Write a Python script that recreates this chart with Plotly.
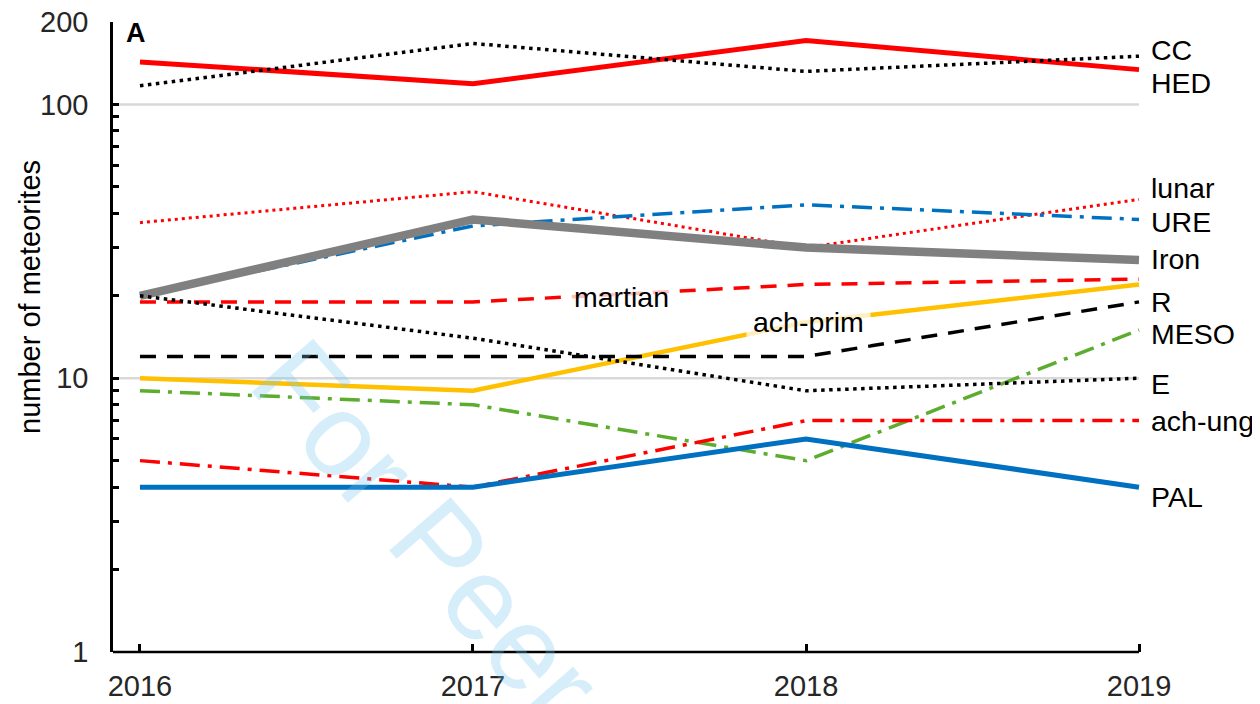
import math
import plotly.graph_objects as go

years = [2016, 2017, 2018, 2019]

hed = [143, 119, 171, 134]
cc = [117, 167, 132, 150]
lunar = [37, 48, 30, 45]
ure = [20, 36, 43, 38]
iron = [20, 38, 30, 27]
martian = [19, 19, 22, 23]
ach_prim = [10, 9, 16, 22]
r_chond = [12, 12, 12, 19]
meso = [9, 8, 5, 15]
e_chond = [20, 14, 9, 10]
ach_ung = [5, 4, 7, 7]
pal = [4, 4, 6, 4]

# end-of-line label texts and their vertical positions (meteorite counts)
end_labels = ["CC", "HED", "lunar", "URE", "Iron", "R", "MESO", "E", "ach-ung", "PAL"]
end_label_y = [158, 119.7, 49.7, 37.2, 27.3, 19.0, 14.5, 9.52, 6.98, 3.68]

y_tick_vals = [1, 2, 3, 4, 5, 6, 7, 8, 9, 10, 20, 30, 40, 50, 60, 70, 80, 90, 100, 200]
y_tick_text = ["1", "", "", "", "", "", "", "", "", "10", "", "", "", "", "", "", "", "", "100", "200"]
grid_vals = [10, 100]

RED = "#ff0000"
BLUE = "#0070c0"
GREY = "#808080"
YELLOW = "#ffc000"
GREEN = "#5cac2d"
BLACK = "#000000"

DOT = "3.5px,4.5px"
FINEDOT = "3px,4px"
DASH = "16px,11px"
DASHDOT = "20px,8px,4px,8px"

series = [
    ("HED", hed, RED, 5, "solid"),
    ("CC", cc, BLACK, 3.5, DOT),
    ("lunar", lunar, RED, 3, FINEDOT),
    ("URE", ure, BLUE, 3.5, DASHDOT),
    ("Iron", iron, GREY, 8.5, "solid"),
    ("martian", martian, RED, 3.5, DASH),
    ("ach-prim", ach_prim, YELLOW, 4.5, "solid"),
    ("R", r_chond, BLACK, 3.5, DASH),
    ("MESO", meso, GREEN, 3.5, DASHDOT),
    ("E", e_chond, BLACK, 3.5, DOT),
    ("ach-ung", ach_ung, RED, 3.5, DASHDOT),
    ("PAL", pal, BLUE, 5, "solid"),
]

X0 = 2015.919
X1 = 2019.018

# plot area (in figure pixels; page adds an 8px body margin)
L, T, PW, PH = 105, 14, 1032, 630
FIG_W, FIG_H = 1252, 696

fig = go.Figure()
for name, vals, color, width, dash in series:
    fig.add_trace(go.Scatter(
        x=years, y=vals, mode="lines", name=name,
        line=dict(color=color, width=width, dash=dash),
        showlegend=False, hoverinfo="skip",
    ))

shapes = []
for g in grid_vals:
    shapes.append(dict(type="line", xref="x", yref="y", x0=X0, x1=2019,
                       y0=g, y1=g, line=dict(color="#d9d9d9", width=2.5), layer="below"))
shapes.append(dict(type="line", xref="x", yref="paper", x0=X0, x1=2019,
                   y0=0, y1=0, line=dict(color=BLACK, width=2.5), layer="above"))

FONT = "Liberation Sans, Arial, sans-serif"
annotations = []
for txt, yv in zip(end_labels, end_label_y):
    annotations.append(dict(text=txt, x=(1149 - 113) / PW, y=math.log10(yv), xref="paper", yref="y",
                            xanchor="left", yanchor="middle", showarrow=False,
                            font=dict(family=FONT, size=28.5, color=BLACK)))

annotations.append(dict(text="martian", x=2017.447, y=math.log10(19.8), xref="x", yref="y",
                        xanchor="center", yanchor="middle", showarrow=False,
                        bgcolor="rgba(255,255,255,0.75)", borderpad=4,
                        font=dict(family=FONT, size=28.5, color=BLACK)))
annotations.append(dict(text="ach-prim", x=2018.009, y=math.log10(16.0), xref="x", yref="y",
                        xanchor="center", yanchor="middle", showarrow=False,
                        bgcolor="rgba(255,255,255,0.75)", borderpad=6,
                        font=dict(family=FONT, size=28.5, color=BLACK)))

annotations.append(dict(text="<b>A</b>", x=(136 - 113) / PW, y=(652 - 33) / PH, xref="paper", yref="paper",
                        xanchor="center", yanchor="middle", showarrow=False,
                        font=dict(family=FONT, size=27, color=BLACK)))

annotations.append(dict(text="number of meteorites", x=(30 - 113) / PW, y=(652 - 297) / PH,
                        xref="paper", yref="paper", xanchor="center", yanchor="middle",
                        textangle=-90, showarrow=False,
                        font=dict(family=FONT, size=29, color=BLACK)))

# watermark
annotations.append(dict(text="For Peer Review", x=(565 - 113) / PW, y=(652 - 690) / PH,
                        xref="paper", yref="paper", xanchor="center", yanchor="middle",
                        textangle=49, showarrow=False,
                        font=dict(family=FONT, size=118, color="rgba(120,200,240,0.3)")))

fig.update_layout(
    width=FIG_W, height=FIG_H,
    margin=dict(l=L, r=FIG_W - L - PW, t=T, b=FIG_H - T - PH),
    paper_bgcolor="white", plot_bgcolor="white",
    shapes=shapes, annotations=annotations,
    font=dict(family=FONT, size=29, color="#262626"),
    xaxis=dict(range=[X0, X1], tickvals=years, ticktext=[str(y) for y in years],
               showgrid=False, zeroline=False, showline=False, automargin=False,
               ticks="inside", ticklen=8, tickwidth=2.5, tickcolor=BLACK,
               tickfont=dict(family=FONT, size=29, color="#262626"),
               ticklabelstandoff=14, ticklabeloverflow="allow"),
    yaxis=dict(type="log", range=[0, math.log10(200) + 1e-6], tickvals=y_tick_vals, ticktext=y_tick_text,
               showgrid=False, zeroline=False, showline=True, linecolor=BLACK, linewidth=2.5,
               automargin=False,
               ticks="inside", ticklen=6, tickwidth=2.5, tickcolor=BLACK,
               tickfont=dict(family=FONT, size=29, color="#262626"),
               ticklabelstandoff=16, ticklabeloverflow="allow"),
)

fig.write_html("out.html")
